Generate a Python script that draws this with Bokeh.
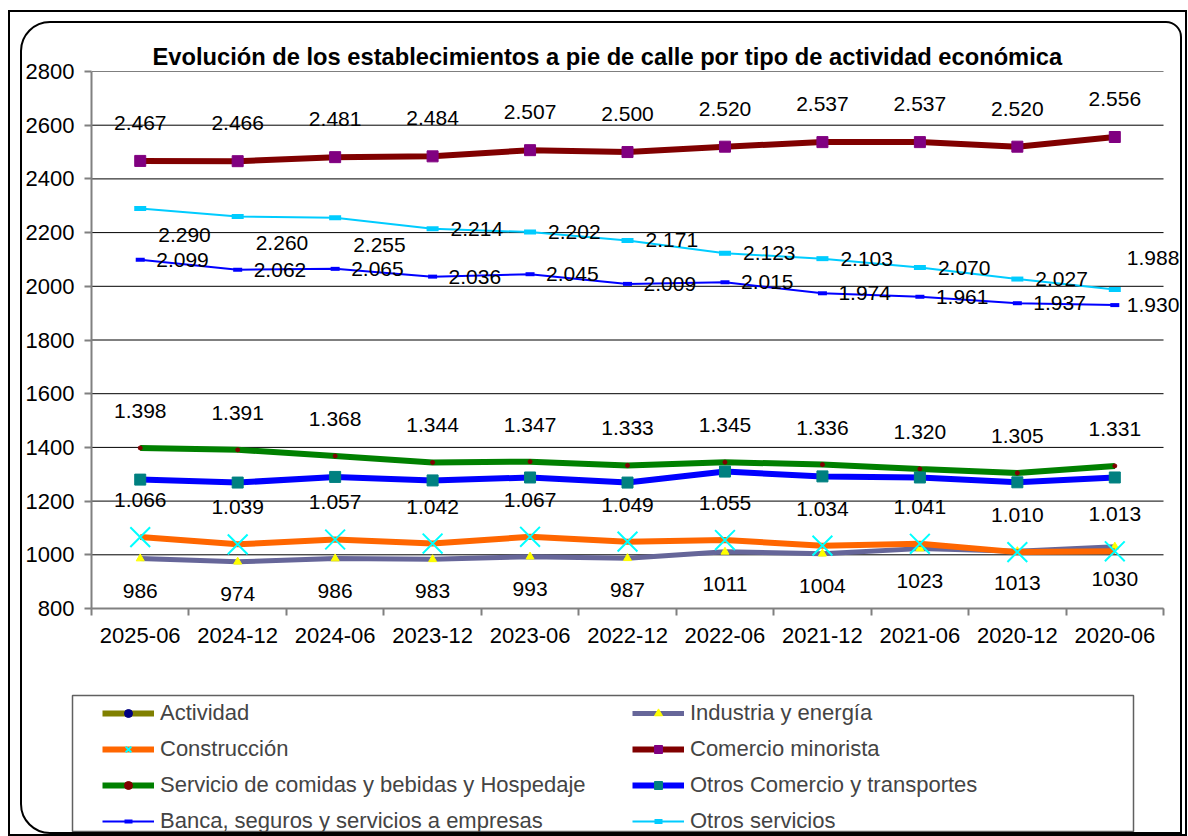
from bokeh.plotting import figure
from bokeh.layouts import column
from bokeh.models import FixedTicker, Legend, LegendItem, Range1d
from bokeh.embed import file_html
from bokeh.resources import INLINE
from bokeh.core.properties import value

nan = float("nan")

# ---------------- data ----------------
periods = ["2025-06", "2024-12", "2024-06", "2023-12", "2023-06", "2022-12",
           "2022-06", "2021-12", "2021-06", "2020-12", "2020-06"]
# "Actividad" has no plotted values in the chart (legend entry only)
actividad = [nan, nan, nan, nan, nan, nan, nan, nan, nan, nan, nan]
industria = [986, 974, 986, 983, 993, 987, 1011, 1004, 1023, 1013, 1030]
construccion = [1066, 1039, 1057, 1042, 1067, 1049, 1055, 1034, 1041, 1010, 1013]
comercio_minorista = [2467, 2466, 2481, 2484, 2507, 2500, 2520, 2537, 2537, 2520, 2556]
servicio_comidas = [1398, 1391, 1368, 1344, 1347, 1333, 1345, 1336, 1320, 1305, 1331]
otros_comercio = [1280, 1269, 1290, 1277, 1288, 1269, 1310, 1292, 1288, 1270, 1288]
banca = [2099, 2062, 2065, 2036, 2045, 2009, 2015, 1974, 1961, 1937, 1930]
otros_servicios = [2290, 2260, 2255, 2214, 2202, 2171, 2123, 2103, 2070, 2027, 1988]
y_ticks = [800, 1000, 1200, 1400, 1600, 1800, 2000, 2200, 2400, 2600, 2800]

title = "Evolución de los establecimientos a pie de calle por tipo de actividad económica"

FONT = "Liberation Sans"

n = len(periods)
x = [i + 0.5 for i in range(n)]


def dotted(v):
    return f"{v:,}".replace(",", ".")


W = 1158
LEFT = 67
AXIS_W = 1074          # width of the category area (px)
FRAME_W = W - LEFT     # frame runs to the right edge so right-hand labels stay visible
x_end = n * FRAME_W / AXIS_W

p = figure(width=W, height=635, x_range=Range1d(0, x_end),
           y_range=Range1d(y_ticks[0], y_ticks[-1]),
           output_backend="svg", toolbar_location=None,
           min_border_left=LEFT, min_border_right=0, min_border_top=48,
           min_border_bottom=50)
p.outline_line_color = None
p.background_fill_color = None
p.border_fill_alpha = 0

p.title.text = title
p.title.text_font = FONT
p.title.text_font_style = "bold"
p.title.text_font_size = "23.7px"
p.title.text_color = "black"
p.title.align = "left"
p.title.offset = 61
p.title.standoff = 4

# axes
p.xaxis.ticker = FixedTicker(ticks=x, minor_ticks=list(range(n + 1)))
p.xaxis.bounds = (0, n)
p.xaxis.major_label_overrides = {xv: lab for xv, lab in zip(x, periods)}
p.xaxis.major_tick_line_color = None
p.xaxis.minor_tick_in = 0
p.xaxis.minor_tick_out = 7
p.xaxis.minor_tick_line_color = "#808080"
p.xaxis.minor_tick_line_width = 2
p.xaxis.axis_line_color = "#808080"
p.xaxis.axis_line_width = 2
p.xaxis.major_label_text_font = FONT
p.xaxis.major_label_text_font_size = "22px"
p.xaxis.major_label_text_color = "black"
p.xaxis.major_label_standoff = 12

p.yaxis.ticker = FixedTicker(ticks=y_ticks, minor_ticks=[])
p.yaxis.major_tick_in = 0
p.yaxis.major_tick_out = 7
p.yaxis.major_tick_line_color = "#808080"
p.yaxis.major_tick_line_width = 2
p.yaxis.axis_line_color = "#808080"
p.yaxis.axis_line_width = 2
p.yaxis.major_label_text_font = FONT
p.yaxis.major_label_text_font_size = "22px"
p.yaxis.major_label_text_color = "black"
p.yaxis.major_label_standoff = 10

# horizontal gridlines across the category area only
p.xgrid.visible = False
p.ygrid.visible = False
p.segment(x0=[0] * len(y_ticks), x1=[n] * len(y_ticks), y0=y_ticks, y1=y_ticks,
          line_color="black", line_width=1)

# legend figure (holds the legend below the chart; its series lie outside its view)
pl = figure(width=W, height=174, x_range=Range1d(0, 1), y_range=Range1d(0, 1),
            output_backend="svg", toolbar_location=None,
            x_axis_location=None, y_axis_location=None,
            min_border_left=50, min_border_right=47, min_border_top=37,
            min_border_bottom=0)
pl.xgrid.visible = False
pl.ygrid.visible = False
pl.outline_line_color = "#606060"
pl.outline_line_width = 1.5
pl.border_fill_alpha = 0
pl.background_fill_alpha = 0

items = []


def series(label, vals, line_color, line_width, marker, m_size, m_fill, m_line, m_lw=1):
    for fig, keep in ((p, False), (pl, True)):
        lr = fig.line(x, vals, line_color=line_color, line_width=line_width)
        sr = fig.scatter(x, vals, marker=marker, size=m_size, fill_color=m_fill,
                         line_color=m_line, line_width=m_lw)
        if keep:
            items.append(LegendItem(label=label, renderers=[lr, sr]))


series("Actividad", actividad, "#808000", 6, "circle", 5, "#000080", "#000080")
series("Industria y energía", industria, "#666699", 5, "triangle", 8, "#FFFF00", "#FFFF00")
series("Construcción", construccion, "#FF6600", 6, "x", 28, None, "#00FFFF", 2)
series("Comercio minorista", comercio_minorista, "#800000", 6, "square", 11, "#800080", "#800080")
series("Servicio de comidas y bebidas y Hospedaje", servicio_comidas, "#008000", 6, "circle", 4, "#800000", "#800000")
series("Otros Comercio y transportes", otros_comercio, "#0000FF", 6, "square", 11, "#008080", "#008080")
series("Banca, seguros y servicios a empresas", banca, "#0000FF", 2, "dash", 9, "#0000FF", "#0000FF", 4)
series("Otros servicios", otros_servicios, "#00CCFF", 2, "dash", 12, "#00CCFF", "#00CCFF", 5)


# data labels
def labels(vals, fmt, dx, dy, align="center"):
    p.text(x, vals, text=[fmt(v) for v in vals], x_offset=dx, y_offset=dy,
           text_align=align, text_baseline="middle", text_font=value(FONT),
           text_font_size="21px", text_color="black")


banca_dx = [16] * (n - 1) + [12]
otros_serv_dx = [18] * (n - 1) + [12]
otros_serv_dy = [27, 27, 27] + [0] * (n - 4) + [-32]

labels(industria, str, 0, 32)
labels(construccion, dotted, 0, -37)
labels(comercio_minorista, dotted, 0, -38)
labels(servicio_comidas, dotted, 0, -37)
labels(banca, dotted, banca_dx, 0, "left")
labels(otros_servicios, dotted, otros_serv_dx, otros_serv_dy, "left")

# legend filled row by row (two columns)
legend = Legend(items=items[0::2] + items[1::2], location=(30, -7), ncols=2,
                orientation="vertical",
                glyph_width=52, glyph_height=20, label_height=36, label_width=472,
                label_standoff=6, spacing=0, padding=0, margin=0,
                border_line_color=None, background_fill_alpha=0,
                label_text_font=FONT, label_text_font_size="22px")
pl.add_layout(legend)

inner = column(p, column(pl), spacing=0,
               styles={"border": "2px solid black", "border-radius": "30px 16px 0 30px"})
root = column(inner, styles={"border": "2px solid black", "margin": "10px 0 0 8px",
                             "padding": "9px 3px 0 10px"})

open("out.html", "w").write(file_html(root, INLINE))
